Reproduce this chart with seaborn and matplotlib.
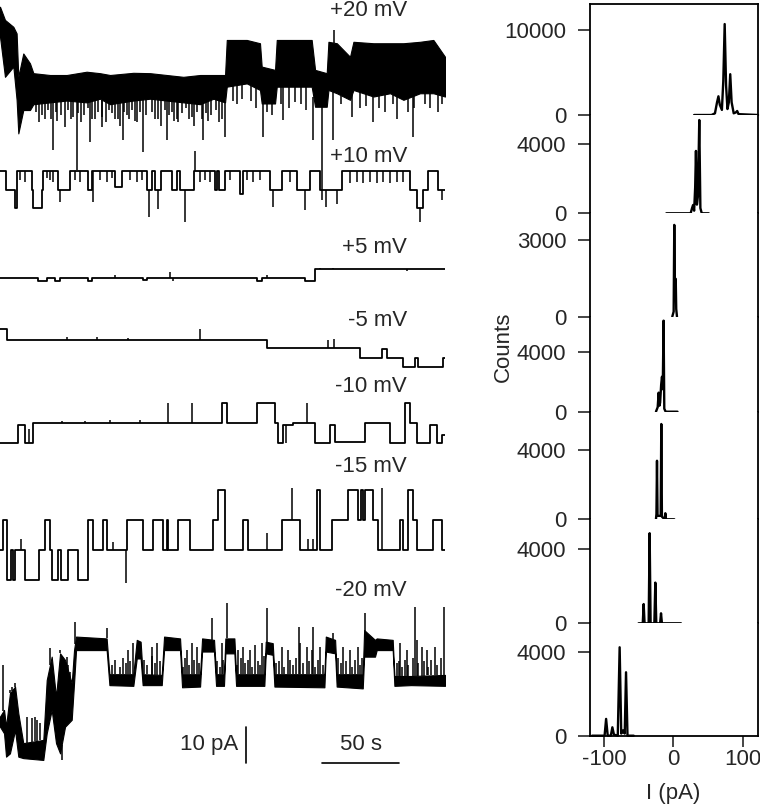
"""
Single-channel recordings at several holding potentials (left)
with the matching all-points current histograms (right).
"""

import numpy as np
import matplotlib
matplotlib.use("Agg")
import matplotlib.pyplot as plt
import seaborn as sns

sns.set_style("white")
plt.rcParams['font.family'] = ['Liberation Sans', 'DejaVu Sans']
plt.rcParams['axes.unicode_minus'] = False

W, H = 760, 807
FS = 16

# ---------------------------------------------------------------- traces ----
T_END = 286.7  # s
voltages = ['+20 mV', '+10 mV', '+5 mV', '-5 mV', '-10 mV', '-15 mV', '-20 mV']

# +20 mV: dense flicker, given as envelope (pA, relative to trace level)
env20_t = [0, 3.2, 8.6, 10.7, 11.8, 15.0, 19.3, 21.5, 32.2, 43.0, 55.8, 64.4, 70.9,
           85.9, 96.7, 107.4, 118.1, 128.9, 137.5, 145.0, 146.1, 159.0, 167.5, 168.6,
           177.2, 178.3, 200.8, 203.0, 210.5, 211.6, 217.0, 225.5, 227.7, 240.6, 251.3,
           259.9, 270.6, 279.2, 286.7]
env20_hi = [18.7, 15.1, 13.2, 11.4, -0.5, 5.9, 3.2, 0.5, 0, 0, 0.9, 0.5, 0,
            0.6, 0.5, 0, -0.5, 0, 0, 0, 9.6, 9.6, 8.7, 2.3,
            1.4, 9.6, 9.6, 1.4, 0.5, 9.1, 8.7, 5.0, 9.1, 8.7, 8.7,
            8.7, 9.1, 9.6, 5.0]
env20_lo = [10.5, -0.5, 2.3, -6.8, -16.0, -9.6, -9.6, -8.0, -7.5, -7.0, -7.5, -6.5, -8.0,
            -7.0, -6.5, -7.0, -7.5, -8.0, -6.5, -7.5, -3.2, -2.3, -4.1, -7.8,
            -7.8, -3.2, -3.2, -8.7, -8.7, -4.1, -5.0, -6.8, -4.1, -5.9, -5.0,
            -6.8, -5.0, -5.0, -5.9]
spk20_t = [34.4, 41.9, 49.4, 58.0, 65.5, 79.5, 92.4, 107.4, 131.0, 145.0, 169.7, 182.6,
           201.9, 207.3, 214.8, 226.6, 240.6, 266.4, 215.4,
           150, 153, 156, 162, 165, 172, 175, 181, 186, 190, 194, 197, 220, 232, 236, 244,
           248, 253, 256, 263, 267, 274, 277, 282, 285]
spk20_i = [-20.5, -14.2, -26.0, -18.3, -14.2, -17.8, -21.0, -17.8, -17.8, -16.9, -16.9, -12.3,
           -17.8, -34.2, -17.8, -11.4, -12.8, -16.9, 12.3,
           -7, -8, -6.5, -7, -9, -10, -11, -8, -9, -7.5, -8, -9.5, -8, -9, -8.5, -9,
           -10, -8, -12, -10, -9, -8, -9, -10, -8]
flick20_t = [23, 25, 27, 29, 31, 33, 36, 37, 39, 44, 46, 47, 50, 52, 54, 57, 59, 61, 63, 66,
             68, 70, 72, 74, 76, 77, 80, 82, 83, 85, 87, 88, 90, 94, 98, 100, 102, 104, 106,
             109, 111, 112, 114, 115, 117, 120, 122, 124, 125, 127, 130, 133, 134, 136, 139,
             141, 143]
flick20_i = [-10, -13, -11, -12, -9.5, -12, -10, -12.5, -11, -9.5, -12, -11.5, -10.5, -13,
             -11, -9, -12, -12, -10, -11.5, -13, -9.5, -10.5, -12, -12, -14, -10, -11, -12,
             -9.5, -12.5, -13, -10, -11, -10, -12, -12, -14, -9.5, -11, -10, -12.5, -12, -13,
             -10.5, -9, -12, -11.5, -14, -10, -12, -10.5, -12.5, -11, -9.5, -13, -12]

# +10 mV
t10 = [0.0, 3.9, 9.7, 11.2, 20.4, 21.5, 26.9, 27.9, 37.6, 45.1, 56.9, 59.1, 74.1, 78.4,
       94.5, 97.7, 99.9, 103.5, 110.6, 113.8, 116.0, 125.2, 138.5, 139.6, 141.1, 145.0,
       154.7, 156.8, 174.0, 181.5, 191.2, 199.8, 206.2, 220.2, 264.2, 268.5, 272.8, 276.0,
       282.5]
i10 = [0, -5.3, -10.3, 0, -5.3, -10.3, -5.3, 0, -5.3, 0, -5.3, 0, -4.5, 0,
       -5.3, 0, -5.3, 0, -5.3, 0, -5.3, 0, -5.3, 0, -5.3, 0,
       -6.5, 0, -5.3, 0, -5.3, 0, -5.3, 0, -5.3, -10.3, -5.3, 0,
       -5.3]
spk10_t = [32.2, 38.7, 60.1, 96.0, 102.0, 119.2, 125.9, 176.1, 196.5, 210.1, 216.9, 270.6,
           284.8, 12.9, 16.1, 30.1, 34.4, 48.3, 51.6, 64.4, 68.7, 72.0, 83.8, 88.1, 91.3,
           128.9, 132.1, 135.3, 148.2, 159.0, 163.2, 167.5, 186.9, 225.5, 229.8, 234.1,
           238.4, 242.7, 247.0, 251.3, 255.6, 259.9]
spk10_i = [-2.5, -8.5, -8.5, -12.6, -10.5, -14.0, 5.5, -9.9, -10.8, -10, -9, -14,
           -8, -2.5, -3, -2, -3, -2.5, -3, -2.5, -3, -2, -2.5, -3, -2.5,
           -3, -2.5, -3, -2.5, -2.5, -3, -2.5, -3, -3.5, -3, -3.5,
           -3, -3.5, -3, -3.5, -3, -3]

# +5 mV
t5p = [0, 24.7, 30.1, 35.4, 38.7, 56.9, 59.1, 92.4, 94.5, 165.4, 168.6, 196.5, 203.0]
i5p = [0, -0.7, 0, -0.7, 0, -0.7, 0, -0.5, 0, -0.7, 0, -0.8, 2.5]
spk5p_t = [74.1, 109.5, 111.7, 171.8, 206.2, 214.8, 262.1]
spk5p_i = [0.8, 1.6, -0.8, 1.0, 2.9, 2.9, 2.0]

# -5 mV
t5n = [0, 4.3, 171.8, 232.0, 246.0, 249.2, 259.9, 267.4, 269.6, 285.7]
i5n = [2.9, 0, -2.3, -4.8, -2.5, -4.8, -7.3, -5.0, -7.3, -5.0]
spk5n_t = [43.0, 62.3, 82.7, 128.9, 211.6, 215.4]
spk5n_i = [0.9, 0.9, 0.6, 2.9, 0.0, 0.3]

# -10 mV
t10n = [0, 11.8, 16.1, 21.5, 142.8, 146.1, 165.4, 177.2, 179.4, 182.6, 189.0, 203.0,
        212.7, 215.9, 235.2, 251.3, 261.0, 264.2, 268.5, 277.1, 281.4, 284.6]
i10n = [-5.5, -0.5, -5.5, 0, 5.5, 0, 5.5, 0, -5.5, -0.5, 0, -5.5,
        -0.5, -5.0, 0, -5.5, 5.5, 0, -5.5, -0.5, -5.5, -3.2]
spk10n_t = [18.9, 70.9, 90.2, 108.5, 123.5, 184.0, 197.6, 55.0, 40.0]
spk10n_i = [-1.5, 1.0, 0.8, 5.5, 5.5, -5.5, 5.5, 0.7, 0.6]

# -15 mV
t15n = [0.0, 1.7, 4.7, 6.9, 8.2, 9.7, 16.1, 25.3, 29.0, 32.2, 33.3, 37.6, 39.1, 44.0,
        50.5, 56.9, 60.1, 66.6, 68.7, 81.6, 92.4, 98.8, 105.3, 107.4, 108.5, 114.9, 122.4,
        137.5, 140.7, 145.0, 156.8, 160.0, 181.5, 193.3, 204.1, 206.2, 213.7, 224.5, 230.9,
        232.4, 234.1, 235.2, 240.6, 243.8, 257.8, 259.9, 263.1, 265.9, 268.5, 279.2, 284.6]
i15n = [0, 8.2, -8.2, 0, -8.2, 0, -8.2, 0, 8.2, 0, -8.2, 0, -8.2, 0,
        -8.2, 8.2, 0, 8.2, 0, 8.2, 0, 8.2, 0, 8.2, 0, 8.2, 0,
        8.2, 16.4, 0, 8.2, 0, 8.2, 0, 16.4, 0, 8.2, 16.4, 8.2,
        16.4, 8.2, 16.4, 8.2, 0, 8.2, 0, 16.4, 8.2, 0, 8.2, 0]
spk15n_t = [13.3, 81.2, 73.0, 171.8, 187.9, 198.7, 201.9, 246.4]
spk15n_i = [3.0, -9.0, 2.3, 4.6, 16.9, 3.0, 3.0, 16.9]

# -20 mV: dense flicker, envelope
env20n_t = [0, 2.6, 3.9, 6.4, 9.7, 11.8, 15.0, 27.9, 30.1, 33.3, 36.1, 38.7, 41.9, 46.2,
            47.7, 49.0, 68.7, 70.5, 85.9, 88.1, 90.6, 91.9, 104.2, 105.7, 116.0, 117.3,
            128.9, 130.2, 137.9, 139.2, 144.3, 145.2, 151.0, 152.1, 170.3, 171.2, 175.7,
            176.8, 209.0, 209.9, 215.9, 216.9, 233.7, 234.6, 241.6, 242.7, 253.0, 254.1,
            264.8, 286.7]
env20n_hi = [-9.1, -7.3, -11.9, -2.7, -0.9, -8.2, -16.4, -15.5, 0.9, 7.3, -3.7, 8.2, 6.4, 0.0,
             9.1, 12.8, 12.3, 2.5, 2.5, 11.9, 11.4, 2.5, 2.3, 12.8, 12.3, 2.5,
             2.5, 12.3, 11.9, 2.5, 2.5, 12.3, 12.3, 2.5, 2.5, 11.4, 11.0,
             2.5, 2.5, 12.8, 11.9, 2.5, 2.5, 14.6, 11.9, 12.3, 11.9, 2.0,
             2.0, 2.3]
env20n_lo = [-11.9, -13.7, -20.1, -19.2, -12.8, -20.1, -20.5, -21.0, -13.7, -7.3, -16.4, -19.2,
             -11.9, -10.0, 0.0, 9.1, 9.1, -0.5, -0.7, 6.8, 6.8, -0.5, -0.5, 9.1, 9.1, -1.1,
             -0.9, 8.7, 8.7, -0.7, -0.7, 8.2, 8.2, -0.7, -0.7, 8.2, 7.8,
             -0.9, -1.1, 8.7, 8.2, -0.9, -1.4, 7.3, 7.3, 9.1, 9.1, -0.7,
             -0.5, -0.7]
spk20n_t = [48.3, 68.7, 136.4, 146.1, 171.8, 192.7, 201.9, 214.8, 235.2, 267.4, 286.3, 2.2, 39.7,
            82.7, 85.9, 97.7, 101.0, 120.3, 123.5, 126.7, 142.8, 153.6, 156.8, 161.1, 164.3,
            168.6, 181.5, 185.8, 193.3, 197.6, 200.8, 206.2, 221.2, 225.5, 230.9, 257.8,
            262.1, 268.5, 271.7, 274.9, 280.3,
            6.4, 7.5, 9.7, 17.2, 20.4, 22.6, 23.6, 25.8, 32.2, 38.7, 43.0, 44.0, 45.1]
spk20n_i = [16.9, 15.1, 17.8, 21.9, 20.5, 15.5, 15.5, 13.7, 19.2, 21.0, 21.0, 5.0, -21.0,
            9, 11, 10, 11, 9, 11, 10, 11, 9, 10, 9, 10.5,
            11, 10, 9, 11, 10, 9, 10, 10, 9, 10, 11,
            9, 12, 10, 9, 10,
            -1.8, -0.9, 0, -9.1, -9.6, -9.1, -10, -11, 9.6, 9.1, 7.3, 5.0, 3.0]
flick20n_t = [72, 74, 77, 79, 81, 84, 87, 93, 95, 98, 100, 103, 118, 119.5, 122, 125, 128,
              140, 141.5, 143.5, 153, 155, 158, 160, 162.5, 166, 167.5, 170, 178, 180, 183,
              187, 189, 191, 195, 199, 203, 205, 208, 218, 220, 223, 227, 229, 232, 233.5,
              255.5, 257, 259, 261, 263, 266, 269.5, 273, 276, 278, 281.5, 284]
flick20n_i = [5, 6.5, 4.5, 7, 5.5, 6, 4.5, 6.5, 5, 7.5, 5.5, 6, 4.5, 7, 5, 6.5, 5.5,
              6, 4.5, 6.5, 5, 7, 5.5, 6.5, 4.5, 6, 5, 7.5, 5.5, 6, 4.5,
              6.5, 5, 7, 5.5, 6, 4.5, 6.5, 5, 7, 5.5, 6, 4.5, 6.5, 5, 7,
              5.5, 6, 4.5, 6.5, 5, 7, 5.5, 6, 4.5, 6.5, 5, 7]

# ------------------------------------------------------------ histograms ----
hist_x = [
    [30, 55, 60, 63, 65, 67, 70, 72, 74, 76, 78, 80, 82, 84, 87, 90, 92, 94, 122],
    [-10, 25, 27, 28.5, 30, 31.5, 32.6, 34, 35.5, 37.4, 39, 41, 51],
    [-1.5, 0.5, 1.4, 2.3, 2.8, 3.5, 4.2, 5.3],
    [-25, -22.5, -21.1, -20, -19, -17.5, -16.3, -15.2, -14, -13, -11, 6],
    [-25, -24.3, -23.5, -22.7, -18.2, -17.3, -16.4, -12.5, -11.5, -10.5, 1.4],
    [-50, -44, -42.7, -41.4, -35.5, -34.1, -32.7, -27.3, -25.9, -24.5, -19, -17.7, -16.4, 11],
    [-117, -99, -96.8, -94.5, -90, -87.8, -85.5, -80, -77.3, -75, -72.4, -70, -68.1, -66, -57],
]
hist_counts = [
    [0, 0, 200, 1500, 2200, 1200, 600, 4000, 10700, 3500, 700, 1500, 4800, 1500, 200, 300, 470, 100, 0],
    [0, 0, 300, 480, 150, 1500, 3600, 500, 1000, 5385, 300, 0, 0],
    [0, 200, 3590, 900, 1500, 1450, 300, 0],
    [0, 300, 1270, 400, 600, 1800, 2330, 1500, 6070, 200, 0, 0],
    [0, 300, 3380, 200, 200, 5500, 150, 0, 350, 0, 0],
    [0, 0, 1040, 0, 0, 4870, 0, 0, 2200, 0, 0, 540, 0, 0],
    [0, 0, 800, 0, 0, 400, 50, 0, 4210, 100, 250, 100, 3020, 0, 0],
]
hist_ticks = [10000, 4000, 3000, 4000, 4000, 4000, 4000]
x_ticks = [-100, 0, 100]

# ---------------------------------------------------------------- layout ----
PX_PER_PA = 3.65
trace_base_px = [75, 170.7, 278.3, 340, 423.3, 550, 683.3]
label_y_px = [10, 157, 247.5, 320.7, 387, 466, 591]
hist_edges_px = [4, 115, 213.3, 316.7, 411.7, 519.3, 623.3, 735.7]
hist_ylim_top = [13060, 5674, 4044, 6333, 6211, 5622, 5352]

fig = plt.figure(figsize=(W / 100, H / 100), dpi=100)

# left: traces
ax = fig.add_axes([0, 0, 445 / W, 1])
ax.set_xlim(0, T_END)
ax.set_ylim(-H / PX_PER_PA, 0)
ax.axis('off')
offs = [-p / PX_PER_PA for p in trace_base_px]


def draw_steps(t, lv, sp_t, sp_i, off):
    t = np.asarray(t, float)
    lv = np.asarray(lv, float)
    tt = np.append(t, T_END)
    yy = np.append(lv, lv[-1]) + off
    sns.lineplot(x=tt, y=yy, ax=ax, drawstyle='steps-post', color='black',
                 linewidth=1.3, estimator=None, sort=False)
    idx = np.searchsorted(t, sp_t, side='right') - 1
    ax.vlines(sp_t, lv[idx] + off, np.asarray(sp_i) + off, color='black', lw=1.1)


def draw_band(t, hi, lo, sp_t, sp_i, off):
    t = np.asarray(t, float)
    ax.fill_between(t, np.asarray(lo) + off, np.asarray(hi) + off,
                    color='black', lw=0.8, edgecolor='black')
    # spikes leave the band from its nearest edge
    sp_i = np.asarray(sp_i, float)
    hi_at = np.interp(sp_t, t, hi)
    lo_at = np.interp(sp_t, t, lo)
    base = np.where(sp_i > hi_at, hi_at, np.where(sp_i < lo_at, lo_at, sp_i))
    ax.vlines(sp_t, base + off, sp_i + off, color='black', lw=1.1)


draw_band(env20_t, env20_hi, env20_lo, spk20_t + flick20_t, spk20_i + flick20_i, offs[0])
draw_steps(t10, i10, spk10_t, spk10_i, offs[1])
draw_steps(t5p, i5p, spk5p_t, spk5p_i, offs[2])
draw_steps(t5n, i5n, spk5n_t, spk5n_i, offs[3])
draw_steps(t10n, i10n, spk10n_t, spk10n_i, offs[4])
draw_steps(t15n, i15n, spk15n_t, spk15n_i, offs[5])
draw_band(env20n_t, env20n_hi, env20n_lo, spk20n_t + flick20n_t, spk20n_i + flick20n_i, offs[6])

for lab, yp in zip(voltages, label_y_px):
    fig.text(407 / W, 1 - yp / H, lab, ha='right', va='center', fontsize=FS)

# scale bars: 10 pA and 50 s
bar_y = -763 / PX_PER_PA
ax.plot([158.5, 158.5], [bar_y, bar_y + 10], color='black', lw=1.2)
ax.plot([207.3, 257.3], [bar_y, bar_y], color='black', lw=1.2)
ax.text(153.4, bar_y + 5, '10 pA', ha='right', va='center', fontsize=FS)
ax.text(232.3, bar_y + 5, '50 s', ha='center', va='center', fontsize=FS)

# right: stacked histograms
n = len(hist_x)
for k in range(n):
    top, bot = hist_edges_px[k], hist_edges_px[k + 1]
    hax = fig.add_axes([590 / W, 1 - bot / H, 168 / W, (bot - top) / H])
    sns.lineplot(x=hist_x[k], y=hist_counts[k], ax=hax, color='black', linewidth=1.7,
                 estimator=None, sort=False, clip_on=False)
    hax.set_xlim(-120, 122)
    hax.set_ylim(0, hist_ylim_top[k])
    hax.set_yticks([0, hist_ticks[k]])
    hax.set_yticklabels(['0', str(hist_ticks[k])])
    hax.set_xlabel('')
    hax.set_ylabel('')
    hax.tick_params(axis='y', direction='out', length=8.5, width=1.2, labelsize=FS,
                    pad=8.5, left=True)
    for s in hax.spines.values():
        s.set_linewidth(1.3)
        s.set_color('black')
    hax.spines['top'].set_visible(k == 0)
    hax.spines['bottom'].set_visible(k == n - 1)
    if k == n - 1:
        hax.set_xticks(x_ticks)
        hax.set_xticklabels([str(v) for v in x_ticks])
        hax.tick_params(axis='x', direction='out', length=8, width=1.2, labelsize=FS,
                        pad=1.5, bottom=True)
    else:
        hax.set_xticks([])

fig.text(503 / W, 1 - 347 / H, 'Counts', rotation=90, ha='center', va='center', fontsize=FS)
fig.text(673 / W, 1 - 793 / H, 'I (pA)', ha='center', va='center', fontsize=FS)

plt.savefig('out.png', dpi=100)
plt.close()
